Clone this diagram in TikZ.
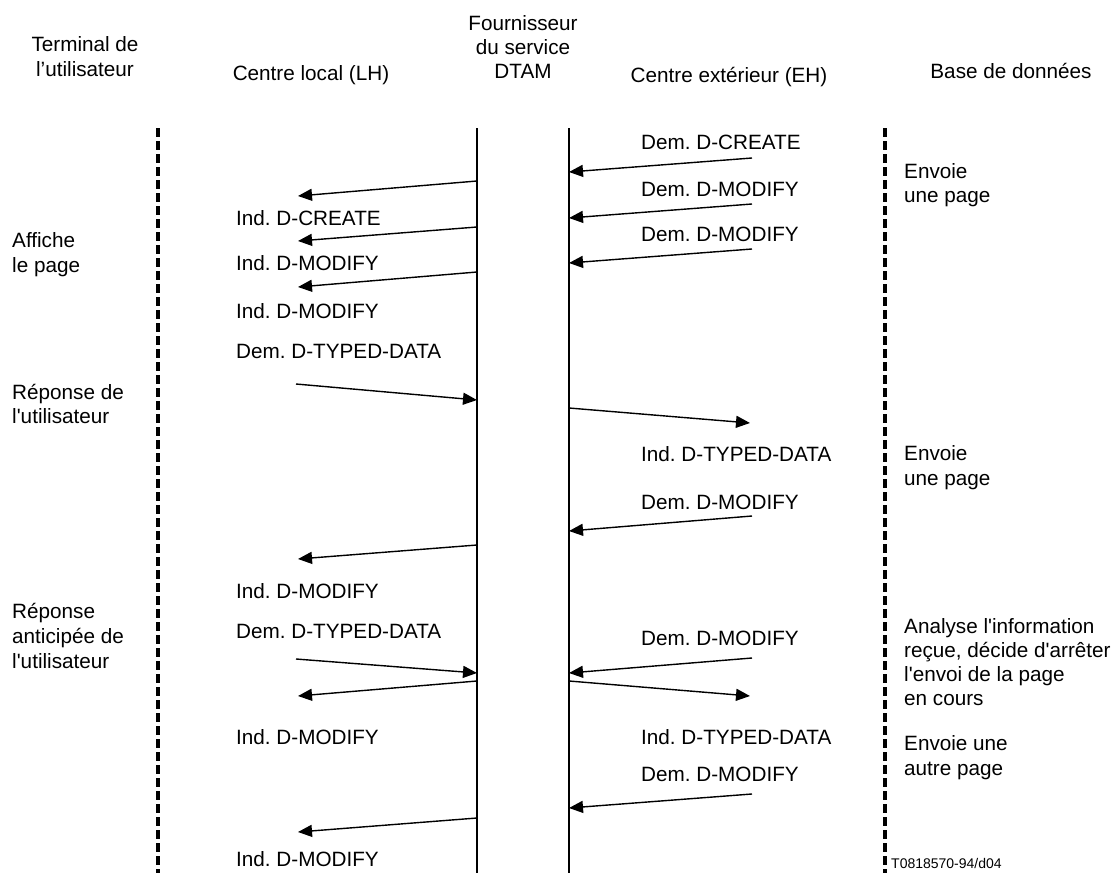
\documentclass[tikz,border=0pt]{standalone}
\usepackage{fontspec}
\setmainfont{Liberation Sans}
\usetikzlibrary{arrows.meta}
\frenchspacing
\begin{document}
\begin{tikzpicture}[x=1pt,y=-1pt,
  lbl/.style={anchor=base west,inner sep=0pt,font=\fontsize{20.7}{24}\selectfont},
  hdr/.style={anchor=base,inner sep=0pt,font=\fontsize{20.7}{24}\selectfont},
  tiny/.style={anchor=base west,inner sep=0pt,font=\fontsize{14}{16}\selectfont},
  msg/.style={-{Triangle[length=14pt,width=12pt]},line width=1.4pt},
  lifeline/.style={line width=1.6pt},
  envline/.style={line width=4pt,dash pattern=on 9pt off 4pt}]
\useasboundingbox (0,0) rectangle (1112,873);
% lifelines
\coordinate (uT) at (158,128); \coordinate (uB) at (158,873);
\coordinate (lhT) at (477,128); \coordinate (lhB) at (477,873);
\coordinate (ehT) at (569,128); \coordinate (ehB) at (569,873);
\coordinate (dbT) at (885,128); \coordinate (dbB) at (885,873);
\draw[envline] (uT) -- (uB);
\draw[envline] (dbT) -- (dbB);
\draw[lifeline] (lhT) -- (lhB);
\draw[lifeline] (ehT) -- (ehB);
% headers
\node[hdr] (h1a) at (85,51) {Terminal de};
\node[hdr] (h1b) at (85,76) {l’utilisateur};
\node[hdr] (h2) at (311,80) {Centre local (LH)};
\node[hdr] (h3a) at (523,30) {Fournisseur};
\node[hdr] (h3b) at (523,54) {du service};
\node[hdr] (h3c) at (523,78) {DTAM};
\node[hdr] (h4) at (729,82) {Centre extérieur (EH)};
\node[hdr] (h5) at (1011,78) {Base de données};
% arrow endpoints
\coordinate (a1s) at (477,181); \coordinate (a1e) at (298,196);
\coordinate (a2s) at (477,227); \coordinate (a2e) at (298,241);
\coordinate (a3s) at (477,272); \coordinate (a3e) at (298,287);
\coordinate (b1s) at (752,158); \coordinate (b1e) at (569,172);
\coordinate (b2s) at (752,204); \coordinate (b2e) at (569,218);
\coordinate (b3s) at (752,249); \coordinate (b3e) at (569,263);
\coordinate (c1s) at (296,384); \coordinate (c1e) at (477,400);
\coordinate (c2s) at (569,408); \coordinate (c2e) at (750,423);
\coordinate (c3s) at (752,516); \coordinate (c3e) at (569,531);
\coordinate (c4s) at (477,545); \coordinate (c4e) at (298,559);
\coordinate (d1s) at (296,659); \coordinate (d1e) at (477,673);
\coordinate (d2s) at (752,658); \coordinate (d2e) at (569,673);
\coordinate (d3s) at (477,681); \coordinate (d3e) at (298,696);
\coordinate (d4s) at (569,681); \coordinate (d4e) at (750,696);
\coordinate (e1s) at (752,794); \coordinate (e1e) at (569,808);
\coordinate (e2s) at (477,818); \coordinate (e2e) at (298,832);
\foreach \m in {a1,a2,a3,b1,b2,b3,c1,c2,c3,c4,d1,d2,d3,d4,e1,e2}
  \draw[msg] (\m s) -- (\m e);
% left message labels
\node[lbl] (l1) at (236,225) {Ind. D-CREATE};
\node[lbl] (l2) at (236,270) {Ind. D-MODIFY};
\node[lbl] (l3) at (236,318) {Ind. D-MODIFY};
\node[lbl] (l4) at (236,358) {Dem. D-TYPED-DATA};
\node[lbl] (l5) at (236,598) {Ind. D-MODIFY};
\node[lbl] (l6) at (236,638) {Dem. D-TYPED-DATA};
\node[lbl] (l7) at (236,744) {Ind. D-MODIFY};
\node[lbl] (l8) at (236,866) {Ind. D-MODIFY};
% right message labels
\node[lbl] (r1) at (641,149) {Dem. D-CREATE};
\node[lbl] (r2) at (641,196) {Dem. D-MODIFY};
\node[lbl] (r3) at (641,241) {Dem. D-MODIFY};
\node[lbl] (r4) at (641,461) {Ind. D-TYPED-DATA};
\node[lbl] (r5) at (641,509) {Dem. D-MODIFY};
\node[lbl] (r6) at (641,645) {Dem. D-MODIFY};
\node[lbl] (r7) at (641,744) {Ind. D-TYPED-DATA};
\node[lbl] (r8) at (641,781) {Dem. D-MODIFY};
% user terminal notes
\node[lbl] (u1a) at (12,247) {Affiche};
\node[lbl] (u1b) at (12,272) {le page};
\node[lbl] (u2a) at (12,399) {Réponse de};
\node[lbl] (u2b) at (12,423) {l\textquotesingle utilisateur};
\node[lbl] (u3a) at (12,618) {Réponse};
\node[lbl] (u3b) at (12,643) {anticipée de};
\node[lbl] (u3c) at (12,668) {l\textquotesingle utilisateur};
% database notes
\node[lbl] (db1a) at (904,178) {Envoie};
\node[lbl] (db1b) at (904,202) {une page};
\node[lbl] (db2a) at (904,460) {Envoie};
\node[lbl] (db2b) at (904,485) {une page};
\node[lbl] (db3a) at (904,633) {Analyse l\textquotesingle information};
\node[lbl] (db3b) at (904,657) {reçue, décide d\textquotesingle arrêter};
\node[lbl] (db3c) at (904,681) {l\textquotesingle envoi de la page};
\node[lbl] (db3d) at (904,705) {en cours};
\node[lbl] (db4a) at (904,750) {Envoie une};
\node[lbl] (db4b) at (904,775) {autre page};
\node[tiny] (ref) at (891,868) {T0818570-94/d04};
\end{tikzpicture}
\end{document}
